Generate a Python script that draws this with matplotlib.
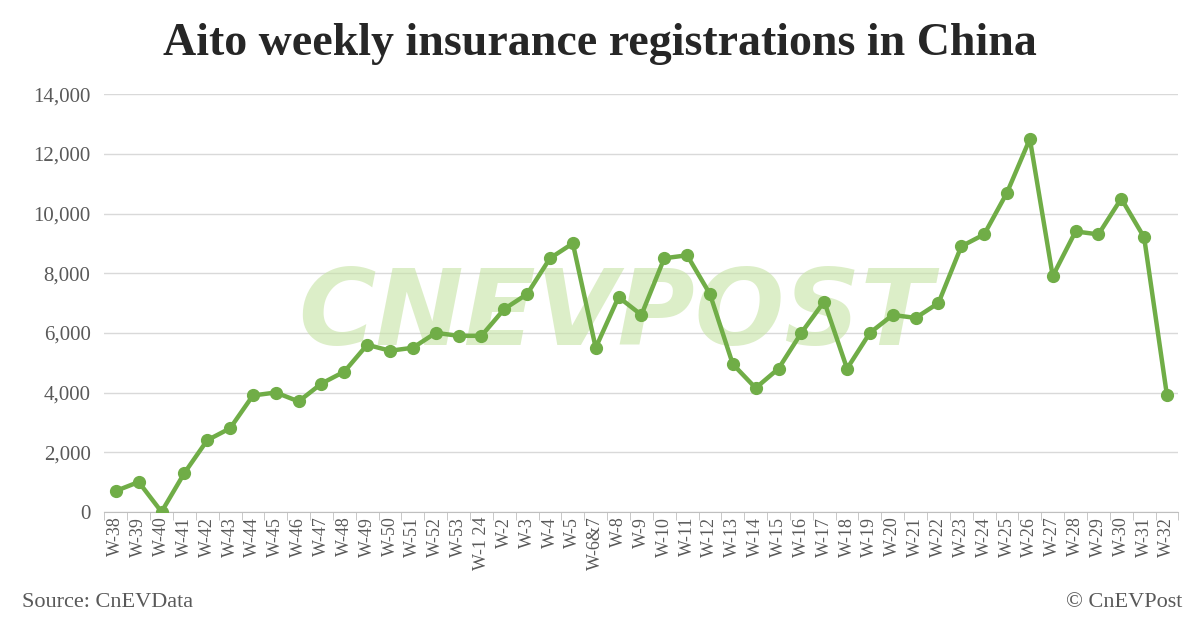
import matplotlib
matplotlib.use("Agg")
import matplotlib.pyplot as plt

weeks = ["W-38","W-39","W-40","W-41","W-42","W-43","W-44","W-45","W-46","W-47","W-48","W-49","W-50","W-51","W-52","W-53","W-1 24","W-2","W-3","W-4","W-5","W-6&7","W-8","W-9","W-10","W-11","W-12","W-13","W-14","W-15","W-16","W-17","W-18","W-19","W-20","W-21","W-22","W-23","W-24","W-25","W-26","W-27","W-28","W-29","W-30","W-31","W-32"]
registrations = [700,1000,0,1300,2400,2800,3900,4000,3700,4300,4700,5600,5400,5500,6000,5900,5900,6800,7300,8500,9000,5500,7200,6600,8500,8600,7300,4950,4150,4800,6000,7050,4800,6000,6600,6500,7000,8900,9300,10700,12500,7900,9400,9300,10500,9200,3900]
yticks = list(range(0, 14001, 2000))

plt.rcParams['font.family'] = ['Liberation Serif', 'DejaVu Serif']
fig = plt.figure(figsize=(12, 6.28), dpi=100)
ax = fig.add_axes([0.087, 0.185, 0.895, 0.665])
x = list(range(len(weeks)))
ax.plot(x, registrations, color='#70AD47', lw=3.2, marker='o', ms=8.5, zorder=3)
ax.set_xlim(-0.5, len(weeks) - 0.5)
ax.set_ylim(0, 14000)
ax.set_yticks(yticks)
ax.set_yticklabels([f"{v:,}" for v in yticks], fontsize=15, color='#595959')
ax.set_xticks(x)
ax.set_xticklabels(weeks, rotation=90, fontsize=13, color='#595959')
ax.grid(axis='y', color='#D9D9D9', lw=1)
ax.set_axisbelow(True)
for s in ['top', 'right', 'left']:
    ax.spines[s].set_visible(False)
ax.spines['bottom'].set_color('#BFBFBF')
ax.tick_params(axis='y', length=0, pad=10)
ax.set_xticks([i - 0.5 for i in range(len(weeks) + 1)], minor=True)
ax.tick_params(axis='x', which='major', length=0)
ax.tick_params(axis='x', which='minor', length=6, color='#BFBFBF')
ax.text(0.476, 0.47, "CNEVPOST", transform=ax.transAxes, fontsize=76, fontweight='bold',
        fontstyle='italic', family='DejaVu Sans', color='#C6E3A4', alpha=0.6,
        ha='center', va='center', zorder=1)
fig.text(0.5, 0.93, "Aito weekly insurance registrations in China", ha='center', va='center',
         fontsize=33, fontweight='bold', color='#262626')
fig.text(0.018, 0.04, "Source: CnEVData", fontsize=16, color='#595959', va='center')
fig.text(0.985, 0.04, "© CnEVPost", fontsize=16, color='#595959', va='center', ha='right')
fig.savefig("out.png", dpi=100)
